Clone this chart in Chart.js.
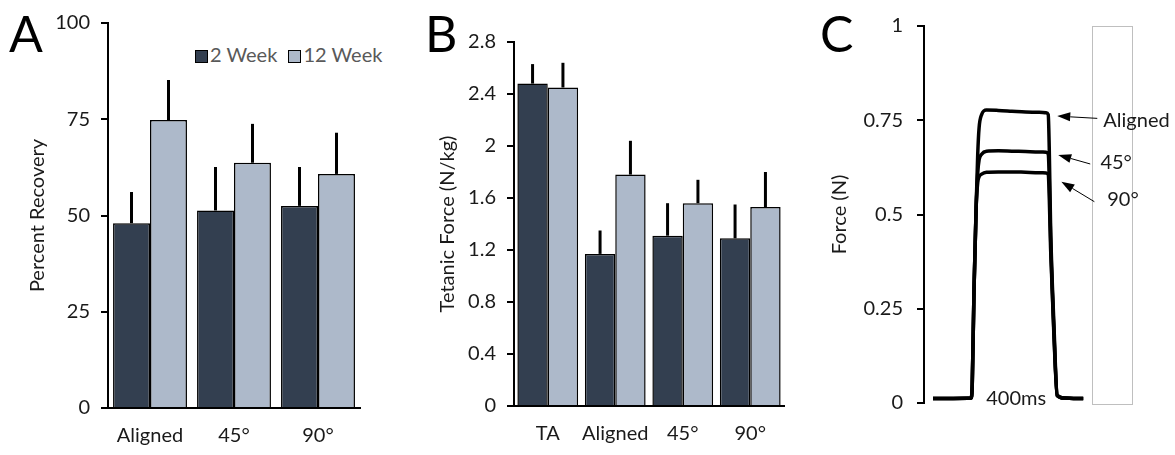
<!DOCTYPE html>
<html>
<head>
<meta charset="utf-8">
<script src="https://cdn.jsdelivr.net/npm/chart.js@4.4.1/dist/chart.umd.min.js"></script>
<style>
  body { margin: 0; background: #fff; width: 1175px; height: 455px; position: relative; overflow: hidden; font-family: Lato, sans-serif; }
  canvas { position: absolute; top: 0; }
  .letter { position: absolute; font-size: 50px; color: #000; line-height: 1; }
  .legend { position: absolute; top: 42px; left: 195px; font-size: 20px; color: #595959; white-space: nowrap; }
  .legend span.box { display: inline-block; width: 11px; height: 11px; border: 1px solid #000; vertical-align: -1px; margin-right: 2px; }
</style>
</head>
<body>
<div class="letter" style="left:9px; top:8px;">A</div>
<div class="letter" style="left:425px; top:8px;">B</div>
<div class="letter" style="left:820px; top:8px;">C</div>
<div class="legend"><span class="box" style="background:#333F50"></span>2 Week <span class="box" style="background:#ADB9CA; margin-left:6px"></span>12 Week</div>
<canvas id="chartA" width="375" height="455" style="left:0px"></canvas>
<canvas id="chartB" width="420" height="455" style="left:385px"></canvas>
<canvas id="chartC" width="365" height="455" style="left:810px"></canvas>
<script>
// ---- panel A: percent recovery ----
const recoveryLabels = ['Aligned', '45°', '90°'];
const recovery2Week = [48.0, 51.3, 52.5];
const recovery2WeekErr = [8.1, 11.3, 10.1];
const recovery12Week = [74.8, 63.7, 60.8];
const recovery12WeekErr = [10.4, 10.1, 10.7];

// ---- panel B: tetanic force ----
const forceLabels = ['TA', 'Aligned', '45°', '90°'];
const force2Week = [2.48, 1.17, 1.31, 1.29];
const force2WeekErr = [0.15, 0.18, 0.25, 0.26];
const force12Week = [2.45, 1.78, 1.56, 1.53];
const force12WeekErr = [0.19, 0.26, 0.18, 0.27];

// ---- panel C: force traces (time in ms, force in N) ----
const traceTime    = [46, 150, 241, 247, 256, 267, 275, 282, 295, 320, 380, 450, 520, 590, 625, 636, 641, 648, 665, 682, 720, 780, 815];
const traceAligned = [0.012, 0.012, 0.013, 0.05, 0.30, 0.52, 0.66, 0.73, 0.765, 0.777, 0.776, 0.774, 0.772, 0.771, 0.770, 0.765, 0.68, 0.47, 0.21, 0.02, 0.013, 0.012, 0.012];
const trace45      = [0.012, 0.012, 0.013, 0.05, 0.30, 0.52, 0.61, 0.645, 0.66, 0.668, 0.669, 0.668, 0.667, 0.666, 0.665, 0.660, 0.60, 0.44, 0.19, 0.02, 0.013, 0.012, 0.012];
const trace90      = [0.012, 0.012, 0.013, 0.05, 0.30, 0.52, 0.585, 0.60, 0.607, 0.612, 0.613, 0.613, 0.612, 0.611, 0.610, 0.606, 0.55, 0.41, 0.18, 0.02, 0.013, 0.012, 0.012];

// arrow annotations [headT, headF, tailT, tailF, labelT, labelF, text]
const traceNotes = [
  [682, 0.761, 887, 0.755, 918, 0.750, 'Aligned'],
  [687, 0.658, 851, 0.634, 903, 0.639, '45°'],
  [703, 0.587, 872, 0.534, 938, 0.539, '90°']
];
const durationLabel = [472, 0.013, '400ms'];

const DARK = '#333F50';
const LIGHT = '#ADB9CA';
const FONT = 'Lato';
const TXT = '#1a1a1a';
const fmt = v => String(+v.toFixed(2));

// one-sided error bars from bar top
const errorBars = {
  id: 'errorBars',
  afterDatasetsDraw(chart) {
    const ctx = chart.ctx;
    const yScale = chart.scales.y;
    ctx.save();
    ctx.strokeStyle = '#000';
    ctx.lineWidth = 3;
    chart.data.datasets.forEach((ds, i) => {
      chart.getDatasetMeta(i).data.forEach((bar, j) => {
        const top = yScale.getPixelForValue(ds.data[j] + ds.errors[j]);
        ctx.beginPath();
        ctx.moveTo(bar.x, bar.y);
        ctx.lineTo(bar.x, top);
        ctx.stroke();
      });
    });
    ctx.restore();
  }
};

function barChart(id, labels, d1, e1, d2, e2, opts) {
  return new Chart(document.getElementById(id), {
    type: 'bar',
    data: {
      labels: labels,
      datasets: [
        { label: '2 Week', data: d1, errors: e1, backgroundColor: DARK, borderColor: '#000', borderWidth: 1.5 },
        { label: '12 Week', data: d2, errors: e2, backgroundColor: LIGHT, borderColor: '#000', borderWidth: 1.5 }
      ]
    },
    options: {
      responsive: false,
      animation: false,
      devicePixelRatio: 1,
      layout: { padding: { top: opts.top, right: opts.right, bottom: 0, left: 0 } },
      datasets: { bar: { categoryPercentage: opts.cat, barPercentage: 1.0 } },
      plugins: { legend: { display: false }, tooltip: { enabled: false } },
      scales: {
        x: {
          grid: { display: false },
          border: { display: true, color: '#000', width: 2 },
          ticks: { padding: 8, autoSkip: false, maxRotation: 0, minRotation: 0, color: TXT, font: { family: FONT, size: 20 } },
          afterFit(s) { s.height = 455 - opts.bottom; }
        },
        y: {
          min: 0, max: opts.max,
          ticks: { stepSize: opts.step, padding: 11, color: TXT, font: { family: FONT, size: 20 }, callback: fmt },
          grid: { drawOnChartArea: false, drawTicks: true, tickLength: 7, color: '#000', lineWidth: 2 },
          border: { display: true, color: '#000', width: 2 },
          title: { display: true, text: opts.title, color: TXT, font: { family: FONT, size: 20 }, padding: { top: opts.titlePad, bottom: 0 } },
          afterFit(s) { s.width = opts.left; }
        }
      }
    },
    plugins: [errorBars]
  });
}

barChart('chartA', recoveryLabels, recovery2Week, recovery2WeekErr, recovery12Week, recovery12WeekErr,
  { top: 23, bottom: 408, left: 108, right: 15, cat: 0.88, max: 100, step: 25, title: 'Percent Recovery', titlePad: 26 });

barChart('chartB', forceLabels, force2Week, force2WeekErr, force12Week, force12WeekErr,
  { top: 42, bottom: 406, left: 129, right: 21, cat: 0.9, max: 2.8, step: 0.4, title: 'Tetanic Force (N/kg)', titlePad: 51 });

// annotations for the force trace panel
const traceDecor = {
  id: 'traceDecor',
  afterDatasetsDraw(chart) {
    const ctx = chart.ctx;
    const xs = chart.scales.x, ys = chart.scales.y;
    const area = chart.chartArea;
    ctx.save();
    // empty legend frame
    ctx.strokeStyle = '#bfbfbf';
    ctx.lineWidth = 1;
    ctx.strokeRect(area.right + 0.5, area.top + 0.5, 40, area.bottom - area.top + 1);

    ctx.strokeStyle = '#000';
    ctx.font = '20px ' + FONT;
    ctx.textBaseline = 'middle';
    traceNotes.forEach(n => {
      const hx = xs.getPixelForValue(n[0]), hy = ys.getPixelForValue(n[1]);
      const tx = xs.getPixelForValue(n[2]), ty = ys.getPixelForValue(n[3]);
      const ang = Math.atan2(hy - ty, hx - tx);
      const len = 13, half = 4.5;
      const bx = hx - len * Math.cos(ang), by = hy - len * Math.sin(ang);
      ctx.lineWidth = 1;
      ctx.beginPath();
      ctx.moveTo(tx, ty);
      ctx.lineTo(bx, by);
      ctx.stroke();
      ctx.fillStyle = '#000';
      ctx.beginPath();
      ctx.moveTo(hx, hy);
      ctx.lineTo(bx + half * Math.sin(ang), by - half * Math.cos(ang));
      ctx.lineTo(bx - half * Math.sin(ang), by + half * Math.cos(ang));
      ctx.closePath();
      ctx.fill();
      ctx.fillStyle = TXT;
      ctx.textAlign = 'left';
      ctx.fillText(n[6], xs.getPixelForValue(n[4]), ys.getPixelForValue(n[5]));
    });
    ctx.fillStyle = TXT;
    ctx.textAlign = 'center';
    ctx.fillText(durationLabel[2], xs.getPixelForValue(durationLabel[0]), ys.getPixelForValue(durationLabel[1]));
    ctx.restore();
  }
};

function tracePoints(ys) {
  return traceTime.map((t, i) => ({ x: t, y: ys[i] }));
}

new Chart(document.getElementById('chartC'), {
  type: 'line',
  data: {
    datasets: [
      { label: 'Aligned', data: tracePoints(traceAligned) },
      { label: '45°', data: tracePoints(trace45) },
      { label: '90°', data: tracePoints(trace90) }
    ]
  },
  options: {
    responsive: false,
    animation: false,
    devicePixelRatio: 1,
    layout: { padding: { top: 24, right: 83, bottom: 52, left: 0 } },
    elements: {
      line: { borderColor: '#000', borderWidth: 3.5, cubicInterpolationMode: 'monotone', fill: false },
      point: { radius: 0 }
    },
    plugins: { legend: { display: false }, tooltip: { enabled: false } },
    scales: {
      x: { type: 'linear', min: 0, max: 860, display: false },
      y: {
        min: 0, max: 1,
        ticks: { stepSize: 0.25, padding: 14, color: TXT, font: { family: FONT, size: 20 }, callback: fmt },
        grid: { drawOnChartArea: false, drawTicks: true, tickLength: 7, color: '#000', lineWidth: 2 },
        border: { display: true, color: '#000', width: 2 },
        title: { display: true, text: 'Force (N)', color: TXT, font: { family: FONT, size: 20 }, padding: { top: 18, bottom: 0 } },
        afterFit(s) { s.width = 114; }
      }
    }
  },
  plugins: [traceDecor]
});
</script>
</body>
</html>
